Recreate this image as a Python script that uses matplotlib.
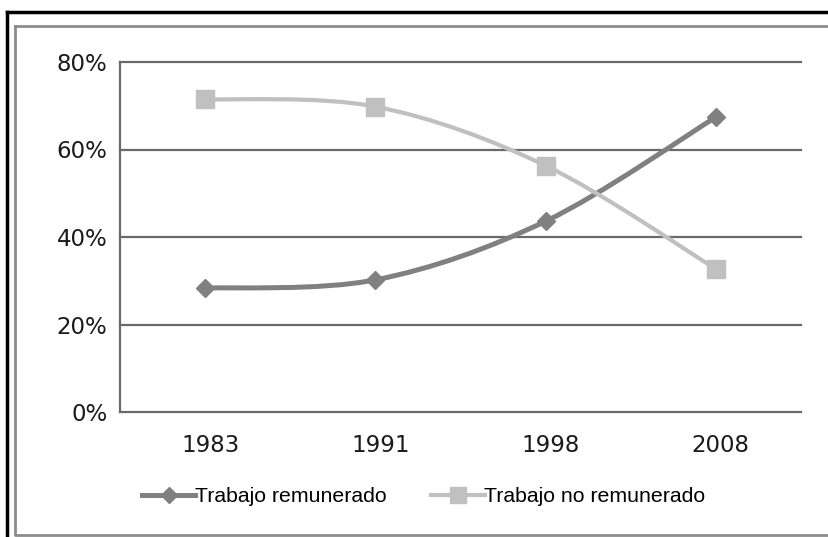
import matplotlib
matplotlib.use("Agg")
import matplotlib.pyplot as plt
import matplotlib.transforms as mtransforms
from matplotlib.path import Path
from matplotlib.patches import PathPatch
from matplotlib.lines import Line2D

# data
years = ["1983", "1991", "1998", "2008"]
remunerado = [0.283, 0.302, 0.436, 0.674]
no_remunerado = [0.715, 0.698, 0.563, 0.327]
y_ticks = [0.0, 0.2, 0.4, 0.6, 0.8]
y_labels = ["0%", "20%", "40%", "60%", "80%"]

dark = "#808080"
light = "#c0c0c0"
grid_col = "#6a6a6a"

W, H = 829, 537
fig = plt.figure(figsize=(W / 100, H / 100), dpi=100)
fig.patch.set_facecolor("white")
ax = fig.add_axes([120 / W, 1 - 412 / H, (801 - 120) / W, (412 - 62) / H])


def smooth_path(xs, ys):
    # excel-like smoothed line: bezier segments through the points
    pts = list(zip(xs, ys))
    n = len(pts)
    verts = [pts[0]]
    codes = [Path.MOVETO]
    for i in range(n - 1):
        p0 = pts[i - 1] if i > 0 else pts[i]
        p1 = pts[i]
        p2 = pts[i + 1]
        p3 = pts[i + 2] if i + 2 < n else pts[i + 1]
        c1 = (p1[0] + (p2[0] - p0[0]) / 6, p1[1] + (p2[1] - p0[1]) / 6)
        c2 = (p2[0] - (p3[0] - p1[0]) / 6, p2[1] - (p3[1] - p1[1]) / 6)
        verts += [c1, c2, p2]
        codes += [Path.CURVE4] * 3
    return Path(verts, codes)


xs = list(range(len(years)))

ax.add_patch(PathPatch(smooth_path(xs, remunerado), fill=False, edgecolor=dark,
                       lw=3.6, capstyle="round", zorder=3))
ax.plot(xs, remunerado, linestyle="none", marker="D", ms=9.5, color=dark, zorder=4)

ax.add_patch(PathPatch(smooth_path(xs, no_remunerado), fill=False, edgecolor=light,
                       lw=3.0, capstyle="round", zorder=5))
ax.plot(xs, no_remunerado, linestyle="none", marker="s", ms=13, color=light, zorder=6)

ax.set_xlim(-0.5, len(years) - 0.5)
ax.set_ylim(0, 0.8)
ax.set_xticks(xs)
ax.set_xticklabels(years, fontsize=16.5, color="#1a1a1a", family="DejaVu Sans")
ax.set_yticks(y_ticks)
ax.set_yticklabels(y_labels, fontsize=16.5, color="#1a1a1a", family="DejaVu Sans")
ax.tick_params(axis="both", length=0)
ax.tick_params(axis="x", pad=16)
ax.tick_params(axis="y", pad=9)

offset = mtransforms.ScaledTranslation(5 / 100, 0, fig.dpi_scale_trans)
for lab in ax.get_xticklabels():
    lab.set_transform(lab.get_transform() + offset)

for y in y_ticks:
    ax.axhline(y, color=grid_col, lw=1.6, zorder=1, clip_on=False)
for s in ["top", "right", "bottom"]:
    ax.spines[s].set_visible(False)
ax.spines["left"].set_color(grid_col)
ax.spines["left"].set_linewidth(1.6)

# legend
handles = [
    Line2D([], [], color=dark, lw=3.6, marker="D", ms=8),
    Line2D([], [], color=light, lw=3.0, marker="s", ms=11),
]
fig.legend(handles, ["Trabajo remunerado", "Trabajo no remunerado"], ncol=2,
           loc="center left", bbox_to_anchor=(142 / W, 1 - 497 / H),
           frameon=False, prop={"family": "Liberation Sans", "size": 15.3},
           handlelength=2.5, handletextpad=0.0, columnspacing=2.1,
           borderpad=0, borderaxespad=0)

# outer borders
fig.add_artist(Line2D([7 / W, 1], [1 - 12 / H, 1 - 12 / H], color="black", lw=2.5,
                      transform=fig.transFigure))
fig.add_artist(Line2D([7 / W, 7 / W], [0, 1 - 12 / H], color="black", lw=2.5,
                      transform=fig.transFigure))
fig.add_artist(Line2D([15 / W, 1, 1, 15 / W, 15 / W],
                      [1 - 26 / H, 1 - 26 / H, 1 - 535 / H, 1 - 535 / H, 1 - 26 / H],
                      color="#8c8c8c", lw=2, transform=fig.transFigure))

fig.savefig("out.png", dpi=100)
